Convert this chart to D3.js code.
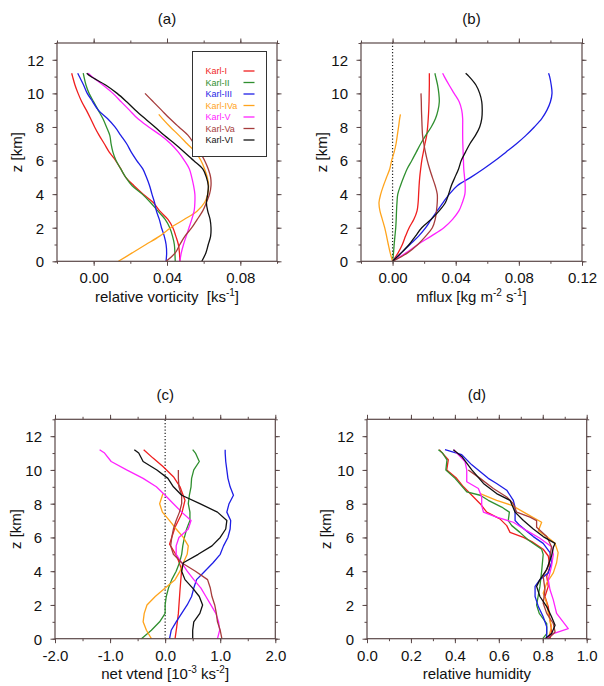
<!DOCTYPE html>
<html>
<head>
<meta charset="utf-8">
<script src="https://cdn.jsdelivr.net/npm/d3@7"></script>
<style>
  body { margin: 0; background: #fff; }
  text { font-family: "Liberation Sans", Arial, Helvetica, sans-serif; fill: #111; white-space: pre; }
</style>
</head>
<body>
<svg id="fig" width="604" height="686"></svg>
<script>
// storms, colours
const STORMS = ["Karl-I", "Karl-II", "Karl-III", "Karl-IVa", "Karl-V", "Karl-Va", "Karl-VI"];
const COLORS = ["#f01e1e", "#2f8f2f", "#1e1ee6", "#ffa41c", "#ff22ff", "#a63c3c", "#111111"];

// (a) relative vorticity, pairs of [z km, value ks-1]
const VORT = [
  [[0,0.047],[0.5,0.0468],[1,0.0462],[1.5,0.0448],[2,0.0432],[2.5,0.0405],[3,0.036],[3.5,0.0325],[4,0.027],[4.5,0.022],[5,0.0175],[5.5,0.0148],[6,0.012],[6.5,0.0085],[7,0.0058],[7.5,0.003],[8,0.0005],[8.5,-0.0017],[9,-0.004],[9.5,-0.0065],[10,-0.0085],[10.5,-0.0102],[11,-0.0115],[11.2,-0.012]],
  [[0,0.0445],[0.5,0.0443],[1,0.044],[1.5,0.043],[2,0.0415],[2.5,0.039],[3,0.035],[3.5,0.031],[4,0.0265],[4.5,0.021],[5,0.0175],[5.5,0.0148],[6,0.0122],[6.5,0.0105],[7,0.0095],[7.5,0.0088],[8,0.007],[8.5,0.005],[9,0.0025],[9.5,0],[10,-0.0025],[10.5,-0.0042],[11,-0.0053],[11.2,-0.0057]],
  [[0,0.0395],[0.5,0.0398],[1,0.0395],[1.5,0.0385],[2,0.037],[2.5,0.0358],[3,0.0342],[3.5,0.0332],[4,0.0318],[4.5,0.0305],[5,0.0288],[5.5,0.0268],[6,0.0235],[6.5,0.0205],[7,0.018],[7.5,0.0148],[8,0.0116],[8.5,0.0075],[9,0.0025],[9.5,-0.0005],[10,-0.0035],[10.5,-0.0055],[11,-0.0078],[11.2,-0.0087]],
  [[0,0.0135],[0.5,0.021],[1,0.0285],[1.5,0.036],[2,0.042],[2.5,0.0495],[3,0.0565],[3.5,0.0605],[4,0.0622],[4.5,0.0627],[5,0.062],[5.5,0.0605],[6,0.0585],[6.5,0.0555],[7,0.051],[7.5,0.0465],[8,0.0418],[8.5,0.0375],[8.75,0.0355]],
  [[0,0.047],[0.5,0.0478],[1,0.049],[1.5,0.0505],[2,0.052],[2.5,0.0535],[3,0.0548],[3.5,0.0552],[4,0.0552],[4.5,0.0545],[5,0.0535],[5.5,0.0522],[6,0.0495],[6.5,0.0462],[7,0.042],[7.5,0.0365],[8,0.03],[8.5,0.024],[9,0.0195],[9.5,0.015],[10,0.0105],[10.5,0.005],[11,-0.001],[11.2,-0.003]],
  [[0,0.0395],[0.5,0.0445],[1,0.047],[1.5,0.0498],[2,0.0535],[2.5,0.0565],[3,0.0595],[3.5,0.0615],[4,0.0632],[4.5,0.064],[5,0.0638],[5.5,0.0625],[6,0.0605],[6.5,0.058],[7,0.0548],[7.5,0.0515],[8,0.0465],[8.5,0.0415],[9,0.037],[9.5,0.0325],[10,0.028]],
  [[0,0.059],[0.5,0.0612],[1,0.0625],[1.5,0.0638],[2,0.064],[2.5,0.0635],[3,0.0622],[3.5,0.0615],[4,0.0622],[4.5,0.0625],[5,0.0615],[5.5,0.0595],[6,0.0545],[6.5,0.0495],[7,0.0442],[7.5,0.0385],[8,0.0334],[8.5,0.028],[9,0.0228],[9.5,0.018],[10,0.0128],[10.5,0.0065],[11,-0.0015],[11.2,-0.0038]]
];

// (b) mass flux [kg m-2 s-1]
const MFLUX = [
  [[0,0],[0.5,0.0035],[1,0.0062],[1.5,0.0082],[2,0.0105],[2.5,0.0135],[3,0.0155],[3.5,0.0162],[4,0.0165],[4.5,0.0168],[5,0.0172],[5.5,0.0178],[6,0.0185],[6.5,0.0195],[7,0.0205],[7.5,0.0216],[8,0.0222],[8.5,0.0226],[9,0.0229],[9.5,0.0231],[10,0.0232],[10.5,0.0233],[11,0.0233],[11.2,0.0233]],
  [[0,0],[0.5,0.0006],[1,0.001],[1.5,0.0015],[2,0.002],[2.5,0.0023],[3,0.0025],[3.5,0.0028],[4,0.0033],[4.5,0.005],[5,0.007],[5.5,0.0092],[6,0.0122],[6.5,0.015],[7,0.0178],[7.5,0.021],[8,0.0245],[8.5,0.0272],[9,0.0288],[9.5,0.0296],[10,0.0293],[10.5,0.0285],[11,0.0273],[11.2,0.0268]],
  [[0,0],[0.5,0.0055],[1,0.011],[1.5,0.0165],[2,0.021],[2.5,0.0245],[3,0.0282],[3.5,0.032],[4,0.036],[4.5,0.041],[5,0.0495],[5.5,0.0575],[6,0.065],[6.5,0.0718],[7,0.0785],[7.5,0.0845],[8,0.0898],[8.5,0.0945],[9,0.0978],[9.5,0.1],[10,0.101],[10.5,0.1005],[11,0.0995],[11.2,0.0988]],
  [[0,0],[0.5,-0.0015],[1,-0.0027],[1.5,-0.0038],[2,-0.005],[2.5,-0.0065],[3,-0.008],[3.5,-0.0086],[4,-0.0075],[4.5,-0.0058],[5,-0.0038],[5.5,-0.0018],[6,-0.0006],[6.5,0.001],[7,0.0022],[7.5,0.003],[8,0.0038],[8.5,0.0045],[8.75,0.005]],
  [[0,0],[0.5,0.0085],[1,0.016],[1.5,0.0245],[2,0.0325],[2.5,0.038],[3,0.042],[3.5,0.0442],[4,0.0458],[4.5,0.046],[5,0.0456],[5.5,0.0451],[6,0.0449],[6.5,0.0447],[7,0.0445],[7.5,0.0444],[8,0.0444],[8.5,0.0444],[9,0.0438],[9.5,0.0422],[10,0.039],[10.5,0.0358],[11,0.0328],[11.2,0.0317]],
  [[0,0],[0.5,0.0095],[1,0.016],[1.5,0.021],[2,0.0252],[2.5,0.027],[3,0.0278],[3.5,0.0283],[4,0.0283],[4.5,0.027],[5,0.0252],[5.5,0.0235],[6,0.022],[6.5,0.0208],[7,0.0198],[7.5,0.019],[8,0.0187],[8.5,0.0185],[9,0.0183],[9.5,0.0182],[10,0.018]],
  [[0,0],[0.5,0.0055],[1,0.0105],[1.5,0.0145],[2,0.0185],[2.5,0.0245],[3,0.0295],[3.5,0.0335],[4,0.0355],[4.5,0.0372],[5,0.0395],[5.5,0.0418],[6,0.0435],[6.5,0.0462],[7,0.049],[7.5,0.0525],[8,0.0552],[8.5,0.0565],[9,0.0568],[9.5,0.0565],[10,0.0552],[10.5,0.0528],[11,0.0485],[11.2,0.0463]]
];

// (c) net vorticity tendency [10-3 ks-2]
const VTEND = [
  [[0,0.18],[0.7,0.21],[1.5,0.24],[2.9,0.27],[4.1,0.3],[4.9,0.21],[5.6,0.08],[6.6,0.18],[7.4,0.3],[8.2,0.36],[9,0.27],[9.6,0.15],[10.2,-0.04],[10.7,-0.22],[11.2,-0.39]],
  [[0,-0.43],[0.5,-0.25],[1,-0.1],[1.5,0],[2,0],[2.5,0.02],[3,0.06],[3.5,0.12],[4,0.2],[4.5,0.26],[5,0.3],[5.5,0.32],[6,0.35],[6.5,0.39],[7,0.45],[7.5,0.45],[8,0.42],[8.5,0.44],[9,0.47],[9.5,0.48],[10,0.52],[10.5,0.62],[11,0.55],[11.2,0.5]],
  [[0,0.08],[0.5,0.11],[1,0.2],[1.5,0.3],[2,0.4],[2.5,0.48],[3,0.52],[3.5,0.57],[4,0.72],[4.5,0.87],[5,1.0],[5.5,1.06],[6,1.14],[6.5,1.18],[7,1.19],[7.5,1.12],[8,1.16],[8.5,1.24],[9,1.18],[9.5,1.14],[10,1.12],[10.5,1.1],[11,1.09],[11.2,1.09]],
  [[0,-0.25],[0.5,-0.34],[1,-0.4],[1.5,-0.38],[2,-0.33],[2.5,-0.18],[3,0],[3.5,0.18],[4,0.27],[4.5,0.33],[5,0.4],[5.5,0.42],[6,0.33],[6.5,0.2],[7,0.08],[7.5,-0.05],[8,-0.1],[8.5,-0.05],[8.6,-0.04]],
  [[0,0.95],[0.5,0.99],[1,0.97],[1.5,0.92],[2,0.83],[2.5,0.74],[3,0.65],[3.5,0.52],[4,0.4],[4.5,0.3],[5,0.2],[5.5,0.2],[6,0.25],[6.5,0.42],[7,0.47],[7.5,0.3],[8,0.15],[8.5,0],[9,-0.16],[9.5,-0.4],[10,-0.7],[10.5,-0.98],[11,-1.1],[11.2,-1.19]],
  [[0,1.03],[0.5,1.0],[1,0.95],[1.5,0.93],[2,0.9],[2.5,0.85],[3,0.82],[3.5,0.77],[4,0.55],[4.5,0.3],[5,0.15],[5.5,0.1],[6,0.12],[6.5,0.15],[7,0.2],[7.5,0.26],[8,0.3],[8.5,0.3],[9,0.25],[9.5,0.24],[10,0.24]],
  [[0,0.5],[0.5,0.5],[1,0.52],[1.5,0.63],[2,0.68],[2.5,0.62],[3,0.5],[3.5,0.36],[4,0.3],[4.5,0.33],[5,0.6],[5.5,0.85],[6,1.0],[6.5,1.1],[7,1.12],[7.5,0.95],[8,0.63],[8.5,0.3],[9,0.15],[9.5,0.05],[10,-0.15],[10.5,-0.4],[11,-0.48],[11.2,-0.56]]
];

// (d) relative humidity
const RH = [
  [[0,0.833],[0.5,0.84],[1.1,0.833],[1.9,0.825],[2.5,0.81],[3.1,0.825],[3.7,0.818],[4.3,0.833],[4.9,0.825],[5.3,0.802],[5.75,0.75],[6,0.712],[6.3,0.651],[6.7,0.636],[7.1,0.605],[7.5,0.545],[8,0.515],[8.5,0.477],[9,0.439],[9.5,0.408],[10,0.363],[10.6,0.37],[11.2,0.329]],
  [[0,0.8],[0.3,0.818],[0.9,0.818],[1.5,0.784],[2,0.772],[3.1,0.787],[4,0.795],[5,0.802],[5.3,0.795],[5.85,0.734],[6.3,0.696],[6.7,0.659],[7,0.643],[7.5,0.648],[7.8,0.613],[8.2,0.552],[8.5,0.515],[8.7,0.454],[9.5,0.401],[10,0.359],[10.6,0.364],[11,0.344],[11.2,0.325]],
  [[0,0.818],[0.7,0.818],[1.3,0.802],[1.9,0.78],[2.5,0.765],[3.1,0.765],[3.5,0.787],[3.9,0.825],[4.5,0.84],[5.1,0.833],[5.65,0.802],[6.05,0.757],[6.7,0.696],[7,0.674],[7.8,0.674],[8.2,0.666],[8.8,0.636],[9.2,0.59],[9.5,0.552],[10.3,0.477],[10.9,0.431],[11.2,0.355]],
  [[0,0.825],[0.7,0.84],[1.5,0.825],[2.1,0.818],[2.7,0.802],[3.3,0.818],[3.9,0.848],[4.5,0.863],[5.1,0.87],[5.65,0.856],[6.05,0.818],[6.4,0.78],[6.9,0.795],[7.4,0.727],[7.9,0.659],[8.2,0.59],[8.6,0.515]],
  [[0,0.818],[0.3,0.848],[0.6,0.916],[1.5,0.863],[2.3,0.848],[2.9,0.833],[3.5,0.825],[4.3,0.84],[5,0.848],[5.45,0.84],[5.95,0.787],[6.4,0.727],[6.9,0.666],[7.2,0.59],[7.5,0.53],[7.9,0.522],[8.4,0.522],[8.9,0.507],[9.3,0.454],[10,0.454],[10.5,0.446],[11.1,0.401],[11.2,0.395]],
  [[0,0.825],[0.4,0.856],[0.9,0.848],[1.5,0.818],[2.1,0.802],[2.9,0.81],[3.7,0.802],[4.3,0.825],[4.9,0.833],[5.45,0.84],[6.05,0.818],[6.6,0.772],[7,0.772],[7.2,0.742],[7.5,0.681],[8,0.666],[8.4,0.636],[8.9,0.575],[9.5,0.515],[10,0.461]],
  [[0,0.81],[0.3,0.84],[0.8,0.856],[1.3,0.84],[1.9,0.818],[2.5,0.787],[3.1,0.772],[3.5,0.787],[4.1,0.818],[4.9,0.84],[5.4,0.848],[5.65,0.856],[6.05,0.802],[6.5,0.757],[7,0.712],[7.5,0.674],[8.2,0.651],[8.6,0.59],[9.2,0.53],[10,0.477],[10.8,0.431],[11.2,0.393]]
];

// tick values
const Z_TICKS = [0, 2, 4, 6, 8, 10, 12];
const A_TICKS = [0.00, 0.04, 0.08];
const B_TICKS = [0.00, 0.04, 0.08, 0.12];
const C_TICKS = [-2.0, -1.0, 0.0, 1.0, 2.0];
const D_TICKS = [0.0, 0.2, 0.4, 0.6, 0.8, 1.0];

const FONT = 15;
const FRAME_COLOR = "#5a4848";
const svg = d3.select("#fig");

// panel layout
const PANELS = [
  {id: "(a)", data: VORT, left: 57, right: 277, top: 43, bottom: 261.3, xdom: [-0.02, 0.10],
   ticks: A_TICKS, minor: d3.range(-0.02, 0.1001, 0.02), fmt: d => d.toFixed(2), zx: 22,
   label: ["relative vorticity  [ks", "-1", "]"], smooth: true, legend: true},
  {id: "(b)", data: MFLUX, left: 361, right: 582, top: 43, bottom: 261.3, xdom: [-0.02, 0.12],
   ticks: B_TICKS, minor: d3.range(-0.02, 0.1201, 0.02), fmt: d => d.toFixed(2), zx: 327,
   label: ["mflux [kg m", "-2", " s", "-1", "]"], smooth: true, zero: true},
  {id: "(c)", data: VTEND, left: 55, right: 275.3, top: 419.3, bottom: 638.7, xdom: [-2, 2],
   ticks: C_TICKS, minor: d3.range(-2, 2.001, 0.5), fmt: d => d.toFixed(1), zx: 21,
   label: ["net vtend [10", "-3", " ks", "-2", "]"], zero: true},
  {id: "(d)", data: RH, left: 367, right: 586.7, top: 419.3, bottom: 638.7, xdom: [0, 1],
   ticks: D_TICKS, minor: d3.range(0, 1.001, 0.1), fmt: d => d.toFixed(1), zx: 331,
   label: ["relative humidity"]}
];

PANELS.forEach(p => {
  const x = d3.scaleLinear().domain(p.xdom).range([p.left, p.right]);
  const y = d3.scaleLinear().domain([0, 13]).range([p.bottom, p.top]);
  const g = svg.append("g");

  // curves
  const line = d3.line()
      .x(d => x(d[1]))
      .y(d => y(d[0]))
      .curve(p.smooth ? d3.curveCatmullRom.alpha(0.5) : d3.curveLinear);

  if (p.zero) {
    g.append("line")
      .attr("x1", x(0)).attr("x2", x(0))
      .attr("y1", y(0)).attr("y2", y(13))
      .attr("stroke", "#222").attr("stroke-width", 1.2)
      .attr("stroke-dasharray", "1.2,2");
  }

  g.selectAll(".curve")
    .data(p.data)
    .enter().append("path")
      .attr("class", "curve")
      .attr("d", line)
      .attr("fill", "none")
      .attr("stroke", (d, i) => COLORS[i])
      .attr("stroke-width", 1.3)
      .attr("stroke-linejoin", "round");

  // axes, ticks pointing out on every side
  const mk = (axis, scale, vals, size, tx, ty, labels) => {
    const a = axis(scale).tickValues(vals).tickSize(size).tickPadding(labels ? 7 : 0)
              .tickFormat(labels ? p.fmt : "");
    const ag = g.append("g").attr("transform", "translate(" + tx + "," + ty + ")").call(a);
    ag.select(".domain").remove();
    ag.selectAll("line").attr("stroke", FRAME_COLOR).attr("stroke-width", 1);
    ag.selectAll("text").attr("font-size", FONT).attr("fill", "#111")
      .attr("font-family", "'Liberation Sans', Arial, sans-serif");
    return ag;
  };
  const zMinor = d3.range(0, 13.01, 1);
  mk(d3.axisBottom, x, p.minor, 2.5, 0, p.bottom, false);
  mk(d3.axisTop, x, p.minor, 2.5, 0, p.top, false);
  mk(d3.axisBottom, x, p.ticks, 4.5, 0, p.bottom, true);
  mk(d3.axisTop, x, p.ticks, 4.5, 0, p.top, false);
  mk(d3.axisLeft, y, zMinor, 2.5, p.left, 0, false);
  mk(d3.axisRight, y, zMinor, 2.5, p.right, 0, false);
  const yl = mk(d3.axisLeft, y, Z_TICKS, 4.5, p.left, 0, false);
  yl.selectAll(".tick").append("text")
    .attr("x", -13).attr("dy", "0.36em")
    .attr("text-anchor", "end").attr("font-size", FONT).attr("fill", "#111")
    .text(d => d);
  mk(d3.axisRight, y, Z_TICKS, 4.5, p.right, 0, false);

  // frame
  g.append("rect")
    .attr("x", p.left).attr("y", p.top)
    .attr("width", p.right - p.left).attr("height", p.bottom - p.top)
    .attr("fill", "none").attr("stroke", FRAME_COLOR).attr("stroke-width", 1.2);

  // title
  g.append("text")
    .attr("x", (p.left + p.right) / 2).attr("y", p.top - 19)
    .attr("text-anchor", "middle").attr("font-size", FONT)
    .text(p.id);

  // x label with superscripts
  const xl = g.append("text")
    .attr("x", (p.left + p.right) / 2).attr("y", p.bottom + 40.5)
    .attr("text-anchor", "middle").attr("font-size", FONT);
  p.label.forEach((s, i) => {
    const sup = i % 2 === 1;
    xl.append("tspan")
      .attr("font-size", sup ? 10 : FONT)
      .attr("dy", i === 0 ? 0 : (sup ? -6 : 6))
      .text(s);
  });

  // y label
  g.append("text")
    .attr("transform", "translate(" + p.zx + "," + ((p.top + p.bottom) / 2) + ") rotate(-90)")
    .attr("text-anchor", "middle").attr("font-size", FONT)
    .text("z [km]");

  // legend (panel a only)
  if (p.legend) {
    const lg = g.append("g");
    lg.append("rect")
      .attr("x", 192.5).attr("y", 51.5).attr("width", 74).attr("height", 105)
      .attr("fill", "#fff").attr("stroke", "#333").attr("stroke-width", 1);
    STORMS.forEach((s, i) => {
      const ly = 71 + i * 11.5;
      lg.append("text")
        .attr("x", 205.5).attr("y", ly).attr("dy", "0.35em")
        .attr("font-size", 9).style("fill", COLORS[i])
        .text(s);
      lg.append("line")
        .attr("x1", 243.5).attr("x2", 254.5).attr("y1", ly).attr("y2", ly)
        .attr("stroke", COLORS[i]).attr("stroke-width", 1.3);
    });
  }
});
</script>
</body>
</html>
